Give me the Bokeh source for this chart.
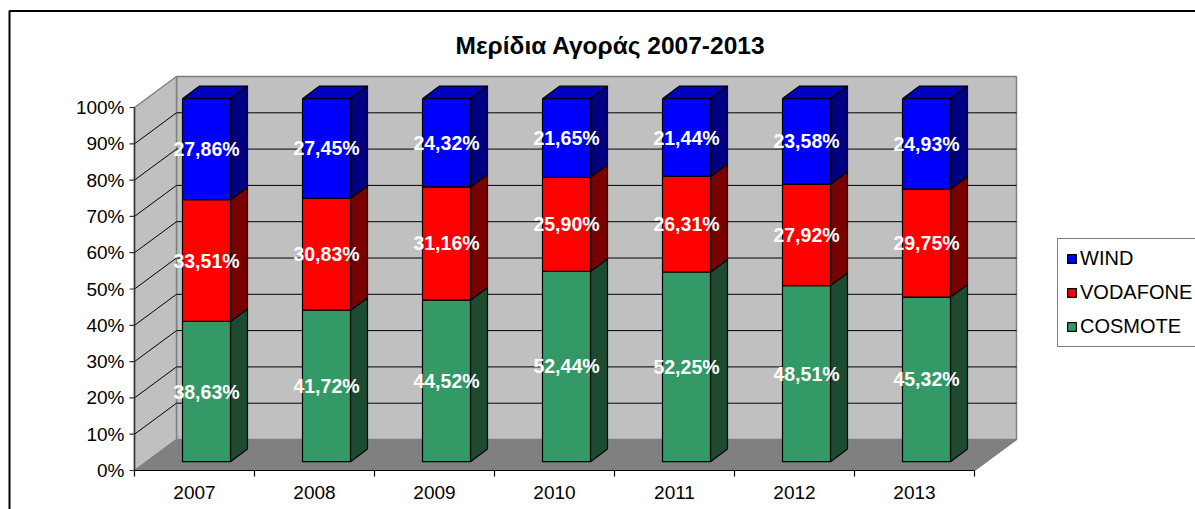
import numpy as np
from bokeh.plotting import figure
from bokeh.models import Legend, LegendItem
from bokeh.core.properties import value
from bokeh.embed import file_html
from bokeh.resources import INLINE

# ---------------- data ----------------
years = ["2007", "2008", "2009", "2010", "2011", "2012", "2013"]
cosmote = [38.63, 41.72, 44.52, 52.44, 52.25, 48.51, 45.32]
vodafone = [33.51, 30.83, 31.16, 25.90, 26.31, 27.92, 29.75]
wind = [27.86, 27.45, 24.32, 21.65, 21.44, 23.58, 24.93]
series_names = ["COSMOTE", "VODAFONE", "WIND"]
y_ticks = [0, 10, 20, 30, 40, 50, 60, 70, 80, 90, 100]
y_tick_labels = ["0%", "10%", "20%", "30%", "40%", "50%", "60%", "70%", "80%", "90%", "100%"]
title_text = "Μερίδια Αγοράς 2007-2013"

# ---------------- styles ----------------
FONT = "Liberation Sans"
front_colors = {"COSMOTE": "#339966", "VODAFONE": "#FF0000", "WIND": "#0000FF"}
side_colors = {"COSMOTE": "#1D4B31", "VODAFONE": "#780000", "WIND": "#000080"}
top_colors = {"COSMOTE": "#287A52", "VODAFONE": "#C00000", "WIND": "#0000C0"}

# ---------------- layout (pixels) ----------------
W, H = 1195, 509
FRAME_W, FRAME_H = W, H
FRAME_LEFT_PAGE, FRAME_BOTTOM_PAGE = 0, H
X0_PAGE, Y0_PAGE = 134, 470          # position of the axes origin in the picture
PX_CAT, PX_PCT = 120.0, 3.63          # pixels per category, per percent

x_start = -(X0_PAGE - FRAME_LEFT_PAGE) / PX_CAT
x_end = x_start + FRAME_W / PX_CAT
y_start = -(FRAME_BOTTOM_PAGE - Y0_PAGE) / PX_PCT
y_end = y_start + FRAME_H / PX_PCT


def px_x(px):
    return px / PX_CAT


def px_y(px):
    return px / PX_PCT


def page_to_data(px, py):
    return (px - X0_PAGE) / PX_CAT, (Y0_PAGE - py) / PX_PCT


DDX, DDY = px_x(42), px_y(31)          # full depth of the 3D box
F0 = 12 / 42                           # depth of bar front face
FD = 17 / 42                           # depth of the bars
BAR_W = 0.4
n = len(years)

p = figure(width=W, height=H, x_range=(x_start, x_end), y_range=(y_start, y_end),
           output_backend="svg", toolbar_location=None, tools="",
           x_axis_location=None, y_axis_location=None,
           min_border=0)
p.grid.visible = False
p.outline_line_color = None
p.background_fill_color = "white"
p.border_fill_color = "white"

# ---------------- chart border ----------------
bx0, by0 = page_to_data(9, 530)
bx1, by1 = page_to_data(9, 10.5)
bx2, by2 = page_to_data(1220, 10.5)
p.line([bx0, bx1, bx2], [by0, by1, by2], line_color="black", line_width=2)

# ---------------- walls & floor ----------------
p.patch([DDX, n + DDX, n + DDX, DDX], [DDY, DDY, 100 + DDY, 100 + DDY],
        fill_color="#C0C0C0", line_color="#808080", line_width=1.5)
p.patch([0, DDX, DDX, 0], [0, DDY, 100 + DDY, 100],
        fill_color="#C0C0C0", line_color="#808080", line_width=1.5)
p.patch([0, n, n + DDX, DDX], [0, 0, DDY, DDY],
        fill_color="#808080", line_color="#808080", line_width=1)

grid_vals = [t for t in y_ticks if 0 < t < 100]
p.multi_line(xs=[[DDX, n + DDX] for _ in grid_vals], ys=[[g + DDY, g + DDY] for g in grid_vals],
             line_color="black", line_width=1)
p.multi_line(xs=[[0, DDX] for _ in grid_vals], ys=[[g, g + DDY] for g in grid_vals],
             line_color="black", line_width=1)

# ---------------- bars ----------------
ox, oy = F0 * DDX, F0 * DDY
bxd, byd = FD * DDX, FD * DDY
values = {"COSMOTE": cosmote, "VODAFONE": vodafone, "WIND": wind}
bottom = np.zeros(n)
front_renderers = {}
label_x, label_y, label_t = [], [], []
for name in series_names:
    vals = np.array(values[name])
    top = bottom + vals
    fx, fy, sx, sy, tx, ty = [], [], [], [], [], []
    for i in range(n):
        xl = i + 0.5 - BAR_W / 2 + ox
        xr = xl + BAR_W
        b, t = bottom[i] + oy, top[i] + oy
        fx.append([xl, xr, xr, xl]); fy.append([b, b, t, t])
        sx.append([xr, xr + bxd, xr + bxd, xr]); sy.append([b, b + byd, t + byd, t])
        tx.append([xl, xr, xr + bxd, xl + bxd]); ty.append([t, t, t + byd, t + byd])
        label_x.append(i + 0.5 + ox)
        label_y.append((bottom[i] + top[i]) / 2 + oy)
        label_t.append(f"{vals[i]:.2f}".replace(".", ",") + "%")
    p.patches(sx, sy, fill_color=side_colors[name], line_color="black", line_width=1.2)
    p.patches(tx, ty, fill_color=top_colors[name], line_color="black", line_width=1.2)
    front_renderers[name] = p.patches(fx, fy, fill_color=front_colors[name],
                                      line_color="black", line_width=1.2)
    bottom = top

p.text(x=label_x, y=label_y, text=label_t, text_color="white", text_font=value(FONT),
       text_font_style="bold", text_font_size="19.5px", text_align="center", text_baseline="middle")

# ---------------- axes ----------------
p.line([0, 0], [0, 100], line_color="#333333", line_width=1.5)
p.line([0, n], [0, 0], line_color="black", line_width=1.2)
p.line([n, n + DDX], [0, DDY], line_color="#808080", line_width=1.2)
p.multi_line(xs=[[-px_x(5), 0] for _ in y_ticks], ys=[[t, t] for t in y_ticks],
             line_color="#333333", line_width=1.2)
p.multi_line(xs=[[i, i] for i in range(n + 1)], ys=[[0, -px_y(6)] for _ in range(n + 1)],
             line_color="black", line_width=1.2)
p.text(x=[-px_x(10)] * len(y_ticks), y=y_ticks, text=y_tick_labels, text_font=value(FONT),
       text_font_size="19px", text_color="black", text_align="right", text_baseline="middle")
p.text(x=[i + 0.5 for i in range(n)], y=[-px_y(22)] * n, text=years, text_font=value(FONT),
       text_font_size="19px", text_color="black", text_align="center", text_baseline="middle")

# ---------------- title ----------------
tx0, ty0 = page_to_data(610, 45)
p.text(x=[tx0], y=[ty0], text=[title_text], text_font=value(FONT), text_font_style="bold",
       text_font_size="24.5px", text_color="black", text_align="center", text_baseline="middle")

# ---------------- legend ----------------
legend = Legend(items=[LegendItem(label=nm, renderers=[front_renderers[nm]])
                       for nm in reversed(series_names)],
                location=(1057 - FRAME_LEFT_PAGE, FRAME_BOTTOM_PAGE - 347),
                orientation="vertical", border_line_color="black", border_line_width=1,
                background_fill_color="white", background_fill_alpha=1.0,
                padding=8, margin=0, spacing=11, glyph_width=11, glyph_height=11,
                label_standoff=3, label_height=22, label_text_font=FONT,
                label_text_font_size="20px", label_text_color="black")
p.add_layout(legend)

open("out.html", "w").write(file_html(p, INLINE))
